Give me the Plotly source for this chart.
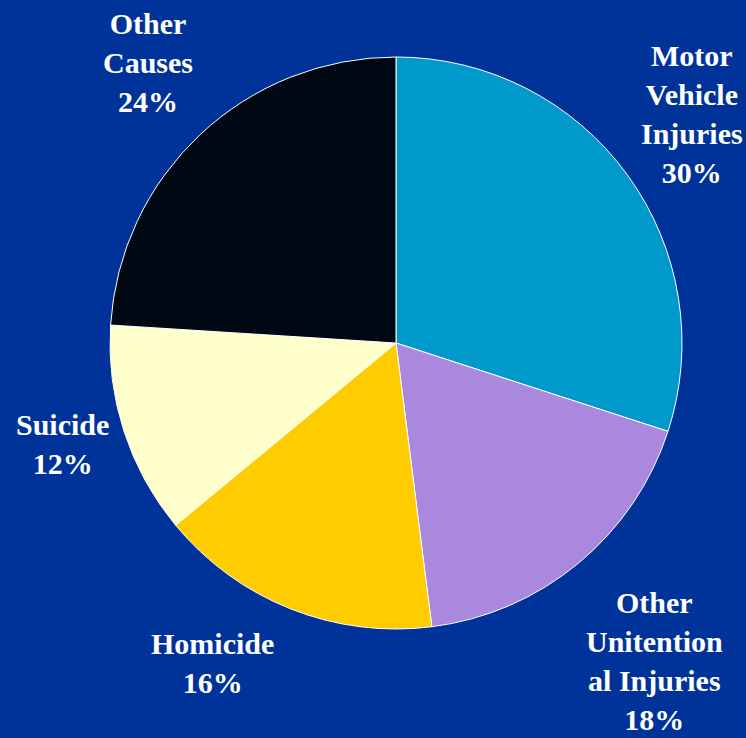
import plotly.graph_objects as go

# causes of death, clockwise from 12 o'clock
causes = ["Motor Vehicle Injuries", "Other Unintentional Injuries", "Homicide", "Suicide", "Other Causes"]
shares = [30, 18, 16, 12, 24]
label_text = ["Motor<br>Vehicle<br>Injuries", "Other<br>Unitention<br>al Injuries", "Homicide", "Suicide", "Other<br>Causes"]
slice_colors = ["#0099CC", "#AA88DD", "#FFCC00", "#FFFFCC", "#000814"]

W, H = 746, 738
BG = "#003399"

fig = go.Figure()

# pie centre ~ (396, 343) px, radius ~286 px
cx, cy, r = 396, 343, 286
fig.add_trace(go.Pie(
    labels=causes,
    values=shares,
    sort=False,
    direction="clockwise",
    rotation=0,
    marker=dict(colors=slice_colors, line=dict(color="white", width=1)),
    textinfo="none",
    hoverinfo="label+percent",
    showlegend=False,
    domain=dict(x=[(cx - r) / W, (cx + r) / W], y=[(H - cy - r) / H, (H - cy + r) / H]),
))

# label placement (pixel centres of each text block)
label_pos = [(692, 114), (654, 661), (212, 663), (62, 444), (148, 62)]
for txt, val, (px, py) in zip(label_text, shares, label_pos):
    fig.add_annotation(
        xref="paper", yref="paper", x=px / W, y=1 - py / H,
        text=f"<b>{txt}<br>{val}%</b>",
        showarrow=False, xanchor="center", yanchor="middle", align="center",
        font=dict(family="Liberation Serif, serif", size=30, color="white"),
    )

fig.update_layout(
    width=W, height=H,
    margin=dict(l=0, r=0, t=0, b=0),
    paper_bgcolor=BG,
    plot_bgcolor=BG,
)

# drop the default page margin so the figure fills the window
fig.write_html(
    "out.html",
    config={"displayModeBar": False},
    post_script="document.body.style.margin='0';document.body.style.overflow='hidden';",
)
